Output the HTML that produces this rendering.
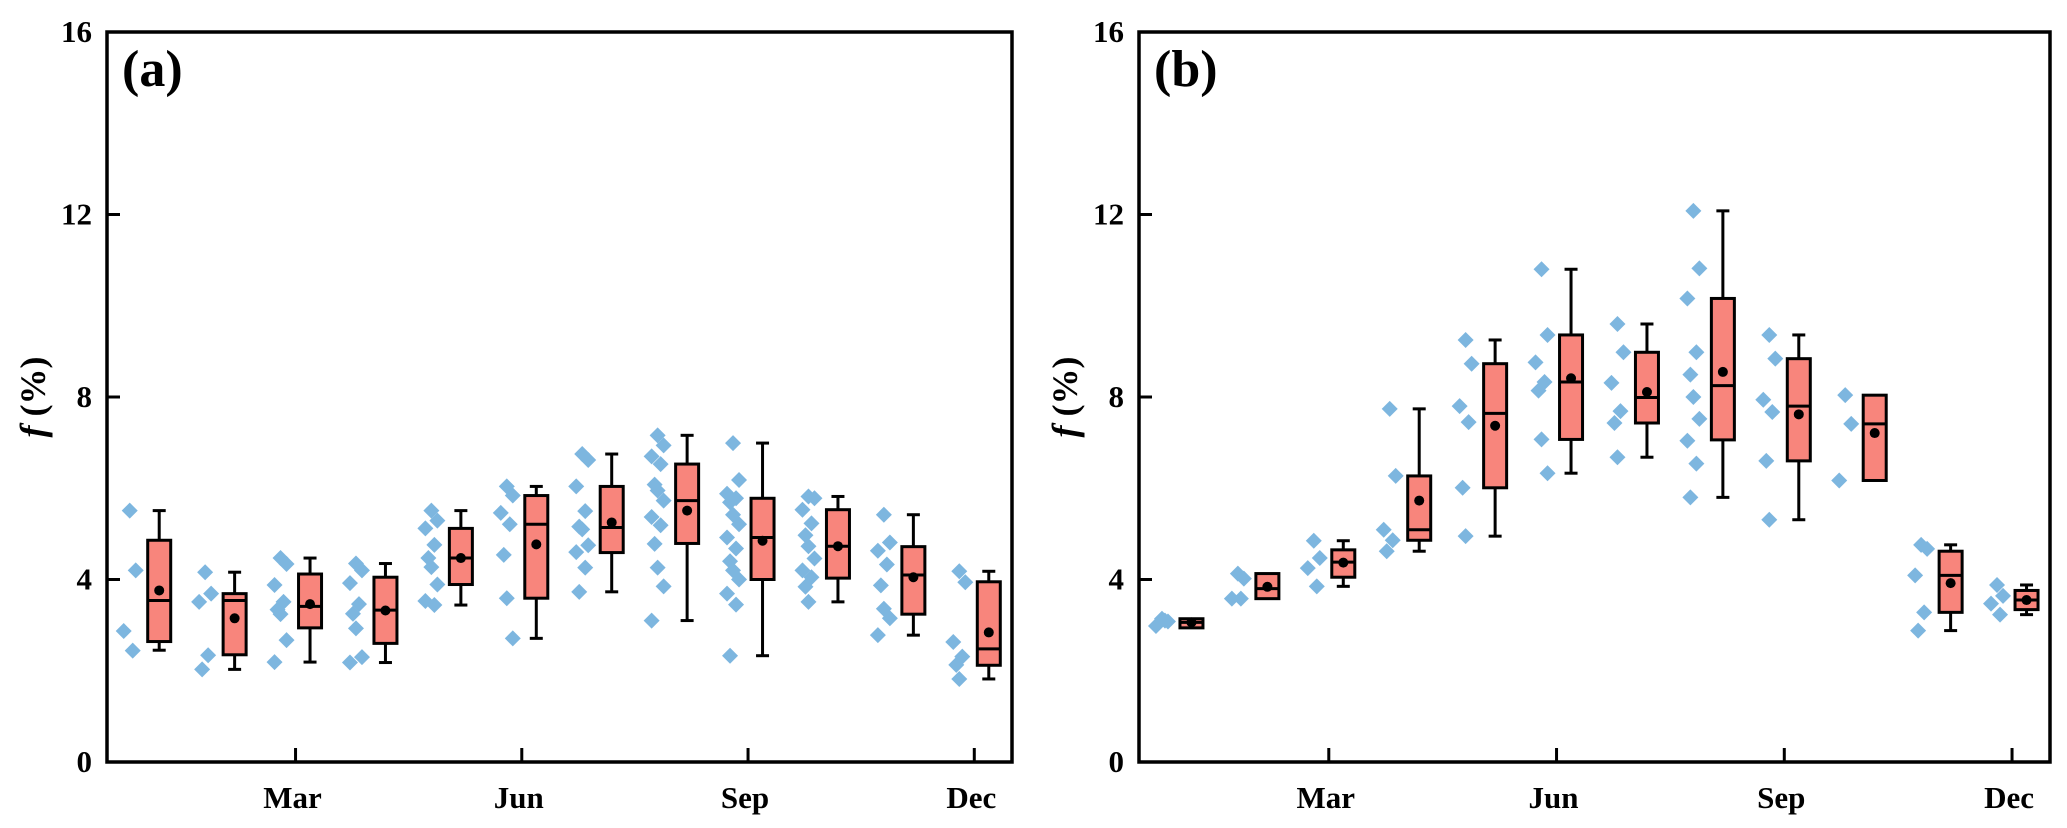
<!DOCTYPE html>
<html><head><meta charset="utf-8">
<style>
html,body{margin:0;padding:0;background:#fff;}
svg{display:block;}
text{font-family:"Liberation Serif","Times New Roman",serif;font-weight:bold;fill:#000;}
</style></head>
<body>
<svg id="chart" width="2067" height="828" viewBox="0 0 2067 828" xmlns="http://www.w3.org/2000/svg"></svg>
<script>
const months = [1,2,3,4,5,6,7,8,9,10,11,12];
const monthTicks = [3,6,9,12];
const monthTickLabels = ["Mar","Jun","Sep","Dec"];
const yTicks = [0,4,8,12,16];

// Panel (a) box stats
const aLow    = [2.45,2.03,2.19,2.18,3.44,2.71,3.73,3.10,2.33,3.51,2.78,1.82];
const aQ1     = [2.64,2.35,2.94,2.60,3.89,3.59,4.59,4.79,4.00,4.03,3.24,2.12];
const aMedian = [3.54,3.54,3.41,3.33,4.47,5.21,5.14,5.73,4.92,4.73,4.10,2.48];
const aQ3     = [4.86,3.69,4.12,4.05,5.12,5.84,6.04,6.53,5.78,5.53,4.72,3.95];
const aHigh   = [5.51,4.16,4.47,4.35,5.51,6.04,6.75,7.16,6.99,5.82,5.42,4.18];
const aMean   = [3.76,3.15,3.46,3.32,4.47,4.77,5.25,5.51,4.85,4.73,4.05,2.84];
const aPoints = [
 [5.51,4.20,2.87,2.44],
 [4.16,3.69,3.51,2.34,2.03],
 [4.47,4.34,3.88,3.51,3.34,3.24,2.67,2.19],
 [4.35,4.20,3.92,3.46,3.25,2.93,2.30,2.18],
 [5.51,5.29,5.12,4.76,4.47,4.27,3.89,3.53,3.44],
 [6.04,5.84,5.46,5.21,4.54,3.59,2.71],
 [6.75,6.62,6.04,5.50,5.16,5.10,4.75,4.60,4.26,3.73],
 [7.16,6.94,6.70,6.53,6.08,5.95,5.73,5.37,5.19,4.78,4.26,3.85,3.10],
 [6.99,6.18,5.88,5.78,5.69,5.42,5.21,4.92,4.68,4.40,4.20,4.00,3.69,3.45,2.33],
 [5.82,5.78,5.53,5.23,4.97,4.73,4.46,4.20,4.05,3.84,3.51],
 [5.42,4.81,4.63,4.33,3.87,3.36,3.15,2.78],
 [4.18,3.94,2.63,2.31,2.13,1.82]
];

// Panel (b)
const bLow    = [2.94,3.58,3.85,4.62,4.95,6.33,6.68,5.80,5.31,6.17,2.88,3.23];
const bQ1     = [2.94,3.58,4.05,4.86,6.01,7.07,7.43,7.06,6.60,6.17,3.28,3.34];
const bMedian = [3.06,3.80,4.38,5.09,7.64,8.33,7.99,8.25,7.80,7.41,4.09,3.55];
const bQ3     = [3.14,4.13,4.65,6.27,8.73,9.36,8.98,10.16,8.84,8.04,4.62,3.76];
const bHigh   = [3.14,4.13,4.85,7.74,9.25,10.80,9.60,12.08,9.36,8.04,4.76,3.88];
const bMean   = [3.06,3.84,4.37,5.73,7.37,8.41,8.11,8.55,7.62,7.21,3.92,3.55];
const bPoints = [
 [3.14,3.08,2.98,3.10],
 [4.13,4.02,3.58,3.58],
 [4.85,4.47,4.25,3.85],
 [7.74,6.27,5.09,4.86,4.62],
 [9.25,8.73,7.80,7.45,6.01,4.95],
 [10.80,9.36,8.76,8.33,8.14,7.07,6.33],
 [9.60,8.98,8.31,7.69,7.43,6.68],
 [12.08,10.82,10.16,8.98,8.49,8.00,7.52,7.04,6.54,5.80],
 [9.36,8.84,7.94,7.67,6.60,5.31],
 [8.04,7.41,6.17],
 [4.76,4.67,4.09,3.28,2.88],
 [3.88,3.64,3.47,3.23]
];

const NS = "http://www.w3.org/2000/svg";
const svg = document.getElementById("chart");
function mk(tag, attrs, parent){
  const e = document.createElementNS(NS, tag);
  for (const k in attrs) e.setAttribute(k, attrs[k]);
  (parent||svg).appendChild(e);
  return e;
}
const jitter = [0, 6, -6, 3, -3];

function panel(opts){
  const L = opts.left, R = opts.right, T = 32, B = 762;
  const g = mk("g", {});
  
  
  const xs = m => L + (m - 0.5) / 12 * (R - L);
  const ys = v => B - v / 16 * (B - T);

  const frame = mk("rect", {x:L, y:T, width:R-L, height:B-T, fill:"none", stroke:"#000", "stroke-width":3.5}, g);
  
  

  yTicks.forEach(v => {
    const tk = mk("line", {x1:L, x2:L+13, y1:ys(v), y2:ys(v), stroke:"#000", "stroke-width":3}, g);
    
    
    const t = mk("text", {x:L-15, y:ys(v)+10, "text-anchor":"end", "font-size":31}, g);
    t.textContent = v;
    
    
  });
  monthTicks.forEach((m, i) => {
    const tk = mk("line", {x1:xs(m), x2:xs(m), y1:B, y2:B-14, stroke:"#000", "stroke-width":3}, g);
    
    
    const t = mk("text", {x:xs(m)-3, y:808, "text-anchor":"middle", "font-size":31}, g);
    t.textContent = monthTickLabels[i];
    
    
  });
  const yt = mk("text", {x:0, y:0, "font-size":36, transform:`translate(${L-62},${(T+B)/2}) rotate(-90)`, "text-anchor":"middle"}, g);
  yt.innerHTML = '<tspan font-style="italic">f</tspan> (%)';
  
  
  const pl = mk("text", {x:L+15, y:86, "font-size":52}, g);
  pl.textContent = opts.label;
  
  

  const bw = 23, cap = 13;
  months.forEach((m, i) => {
    opts.points[i].forEach((v, j) => {
      const cx = xs(m) - 15 + jitter[j % jitter.length];
      const cy = ys(v);
      const d = 8;
      const p = mk("polygon", {points:`${cx},${cy-d} ${cx+d},${cy} ${cx},${cy+d} ${cx-d},${cy}`, fill:"#7db6df"}, g);
      
      
    });
    const bx = xs(m) + 14.5;
    if (opts.high[i] > opts.q3[i]) {
      const w = mk("line", {x1:bx, x2:bx, y1:ys(opts.q3[i]), y2:ys(opts.high[i]), stroke:"#000", "stroke-width":3}, g);
      
      
      const c = mk("line", {x1:bx-cap/2, x2:bx+cap/2, y1:ys(opts.high[i]), y2:ys(opts.high[i]), stroke:"#000", "stroke-width":3}, g);
      
      
    }
    if (opts.low[i] < opts.q1[i]) {
      const w = mk("line", {x1:bx, x2:bx, y1:ys(opts.q1[i]), y2:ys(opts.low[i]), stroke:"#000", "stroke-width":3}, g);
      
      
      const c = mk("line", {x1:bx-cap/2, x2:bx+cap/2, y1:ys(opts.low[i]), y2:ys(opts.low[i]), stroke:"#000", "stroke-width":3}, g);
      
      
    }
    const box = mk("rect", {x:bx-bw/2, y:ys(opts.q3[i]), width:bw, height:ys(opts.q1[i])-ys(opts.q3[i]), fill:"#f8857c", stroke:"#000", "stroke-width":3}, g);
    
    
    const md = mk("line", {x1:bx-bw/2, x2:bx+bw/2, y1:ys(opts.median[i]), y2:ys(opts.median[i]), stroke:"#000", "stroke-width":3}, g);
    
    
    const mn = mk("circle", {cx:bx, cy:ys(opts.mean[i]), r:5, fill:"#000"}, g);
    
    
  });
}

panel({name:"panel-a", label:"(a)", left:107, right:1012,
  low:aLow, q1:aQ1, median:aMedian, q3:aQ3, high:aHigh, mean:aMean, points:aPoints});
panel({name:"panel-b", label:"(b)", left:1139, right:2050,
  low:bLow, q1:bQ1, median:bMedian, q3:bQ3, high:bHigh, mean:bMean, points:bPoints});
</script>
</body></html>
